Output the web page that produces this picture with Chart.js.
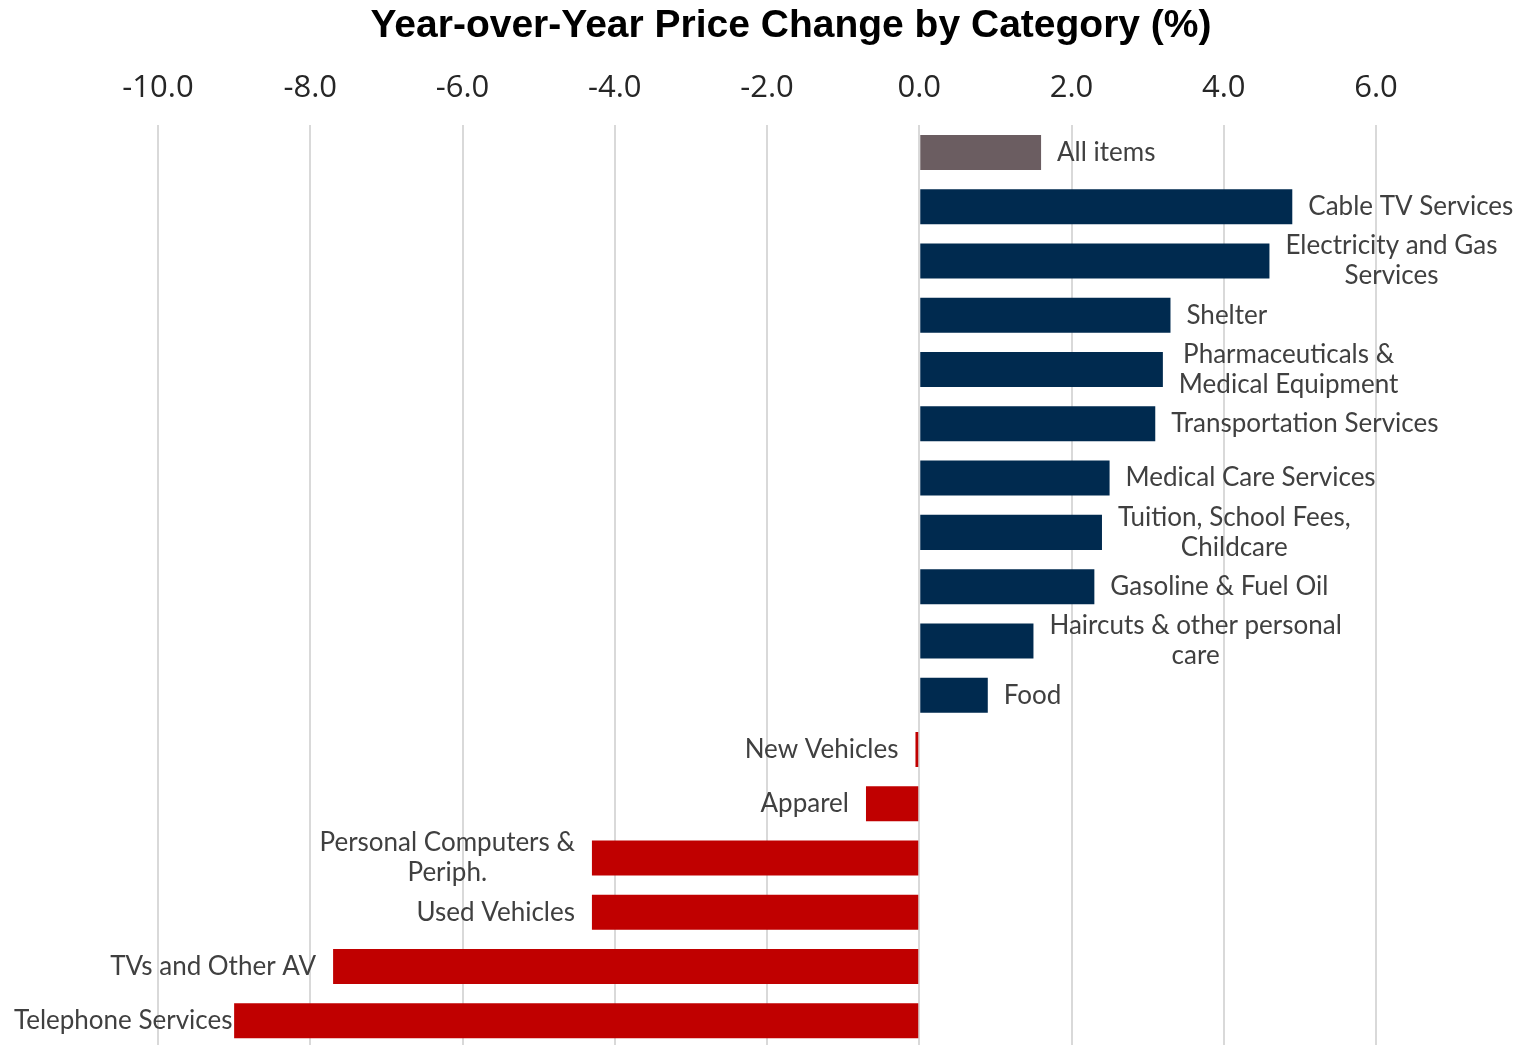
<!DOCTYPE html>
<html>
<head>
<meta charset="utf-8">
<script src="https://cdn.jsdelivr.net/npm/chart.js@4/dist/chart.umd.min.js"></script>
<style>
  html, body { margin: 0; padding: 0; background: #ffffff; overflow: hidden; }
  #wrap { width: 1526px; height: 1048px; position: relative; }
</style>
</head>
<body>
<div id="wrap"><canvas id="c"></canvas></div>
<script>
// Category names (one entry per line of the label)
const categories = [
  ["All items"],
  ["Cable TV Services"],
  ["Electricity and Gas", "Services"],
  ["Shelter"],
  ["Pharmaceuticals &", "Medical Equipment"],
  ["Transportation Services"],
  ["Medical Care Services"],
  ["Tuition, School Fees,", "Childcare"],
  ["Gasoline & Fuel Oil"],
  ["Haircuts & other personal", "care"],
  ["Food"],
  ["New Vehicles"],
  ["Apparel"],
  ["Personal Computers &", "Periph."],
  ["Used Vehicles"],
  ["TVs and Other AV"],
  ["Telephone Services"]
];

// Year-over-year change, percent
const changes = [1.6, 4.9, 4.6, 3.3, 3.2, 3.1, 2.5, 2.4, 2.3, 1.5, 0.9, -0.05, -0.7, -4.3, -4.3, -7.7, -9.0];

// Axis ticks shown along the top
const tickValues = [-10, -8, -6, -4, -2, 0, 2, 4, 6];

const COLOR_TOTAL = '#6b5d61';
const COLOR_UP = '#002a4f';
const COLOR_DOWN = '#c00000';

const barColors = changes.map((v, i) => i === 0 ? COLOR_TOTAL : (v >= 0 ? COLOR_UP : COLOR_DOWN));

const LABEL_FONT = '26px Lato, "Open Sans", sans-serif';
const LABEL_LINE = 30;

// Writes each category name beside the end of its bar
const barLabels = {
  id: 'barLabels',
  afterDatasetsDraw(chart) {
    const ctx = chart.ctx;
    const meta = chart.getDatasetMeta(0);
    ctx.save();
    ctx.font = LABEL_FONT;
    ctx.fillStyle = '#404040';
    ctx.textAlign = 'center';
    ctx.textBaseline = 'middle';
    meta.data.forEach((bar, i) => {
      const lines = categories[i];
      const w = Math.max(...lines.map(l => ctx.measureText(l).width));
      const val = changes[i];
      let left;
      if (val >= 0) {
        left = Math.max(bar.x, bar.base) + 16;
      } else {
        left = Math.min(bar.x, bar.base) - 17 - w;
        if (left < 14) left = 14;
      }
      const cx = left + w / 2;
      const y0 = bar.y - (lines.length - 1) * LABEL_LINE / 2;
      lines.forEach((l, k) => ctx.fillText(l, cx, y0 + k * LABEL_LINE));
    });
    ctx.restore();
  }
};

new Chart(document.getElementById('c'), {
  type: 'bar',
  data: {
    labels: categories.map(c => c.join(' ')),
    datasets: [{
      data: changes,
      backgroundColor: barColors,
      borderWidth: 0,
      barPercentage: 0.645,
      categoryPercentage: 1.0
    }]
  },
  options: {
    indexAxis: 'y',
    responsive: true,
    maintainAspectRatio: false,
    animation: false,
    layout: { padding: { left: 56, right: 0, top: 0, bottom: 0 } },
    plugins: {
      legend: { display: false },
      tooltip: { enabled: false },
      title: {
        display: true,
        text: 'Year-over-Year Price Change by Category (%)',
        color: '#000000',
        font: { family: '"Liberation Sans Narrow", "Liberation Sans", Arial, sans-serif', size: 39, weight: 'bold', lineHeight: 1.2 },
        padding: { top: 3, bottom: 0 }
      }
    },
    scales: {
      x: {
        position: 'top',
        min: -10,
        max: 7.97,
        afterBuildTicks(scale) {
          scale.ticks = tickValues.map(v => ({ value: v }));
        },
        afterFit(scale) { scale.height = 75.5; },
        grid: {
          color: (c) => (c.tick && c.tick.value > 6) ? 'rgba(0,0,0,0)' : '#d9d9d9',
          lineWidth: 2,
          drawTicks: false
        },
        border: { display: false },
        ticks: {
          font: { family: '"Open Sans", "Noto Sans", sans-serif', size: 31 },
          color: '#262626',
          padding: 19,
          maxRotation: 0,
          callback: (v) => Number(v).toFixed(1)
        }
      },
      y: {
        grid: { display: false },
        border: { display: false },
        ticks: { display: false },
        afterFit(scale) { scale.width = 102; }
      }
    }
  },
  plugins: [barLabels]
});
</script>
</body>
</html>
